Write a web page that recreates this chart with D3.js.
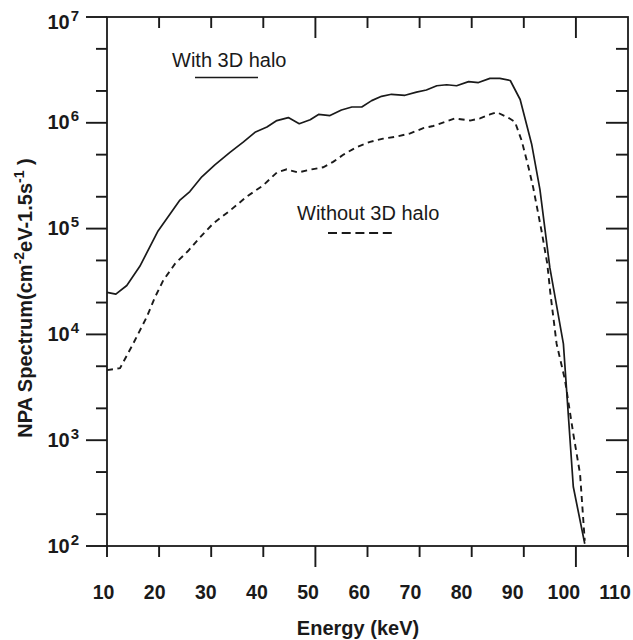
<!DOCTYPE html>
<html>
<head>
<meta charset="utf-8">
<script src="https://cdn.jsdelivr.net/npm/d3@7"></script>
<style>
  html, body { margin: 0; padding: 0; background: #fff; }
  svg { display: block; font-family: "Liberation Sans", Arial, Helvetica, sans-serif; }
</style>
</head>
<body>
<svg id="chart" width="633" height="640"></svg>
<script>
// ---- Data ----
const energyWith = [10, 11.7, 13.8, 16.3, 19.8, 24, 25.9, 28.2, 30.7, 33.6, 36.2, 38.4, 40.7, 42.6, 44.8, 46.9, 49, 50.6, 52.8, 55, 57, 58.9, 60.8, 62.7, 64.6, 67.2, 69.4, 71.3, 73.3, 75.2, 77.1, 79.4, 81.3, 83.5, 85.4, 87.4, 89.3, 91.5, 93.1, 95.0, 97.6, 99.5, 101.7];
const fluxWith = [25000, 24000, 29000, 44000, 95000, 186000, 224000, 309000, 400000, 525000, 661000, 813000, 912000, 1.05e6, 1.12e6, 0.98e6, 1.07e6, 1.20e6, 1.17e6, 1.32e6, 1.41e6, 1.41e6, 1.62e6, 1.78e6, 1.86e6, 1.82e6, 1.95e6, 2.04e6, 2.24e6, 2.29e6, 2.24e6, 2.45e6, 2.40e6, 2.63e6, 2.63e6, 2.51e6, 1.66e6, 631000, 234000, 42700, 8130, 363, 105];

const energyWithout = [10, 12.5, 15.0, 17.6, 19.2, 20.8, 23.1, 25.6, 27.9, 30.4, 33.6, 36.8, 40.0, 42.6, 44.5, 46.7, 49.3, 51.5, 53.4, 55.4, 57.9, 60.5, 63.0, 65.6, 68.2, 70.7, 72.6, 74.9, 76.8, 79.7, 81.6, 83.5, 84.8, 87.0, 88.3, 89.6, 90.9, 91.8, 93.4, 94.5, 95.1, 96.3, 97.9, 99.5, 100.8, 101.7];
const fluxWithout = [4600, 4800, 8130, 14500, 22400, 32400, 46800, 61700, 83200, 112000, 148000, 200000, 257000, 339000, 363000, 339000, 363000, 380000, 427000, 501000, 589000, 661000, 708000, 741000, 794000, 891000, 933000, 1.02e6, 1.10e6, 1.05e6, 1.10e6, 1.20e6, 1.26e6, 1.12e6, 1.02e6, 676000, 380000, 245000, 95500, 46800, 24500, 8130, 3720, 1150, 479, 112];

const xTicks = [10, 20, 30, 40, 50, 60, 70, 80, 90, 100, 110];
const xMajorTicks = [50, 100];
const yMajorTicks = [1e2, 1e3, 1e4, 1e5, 1e6, 1e7];
const yMinorTicks = [2e2, 5e2, 2e3, 5e3, 2e4, 5e4, 2e5, 5e5, 2e6, 5e6];
const seriesNames = ["With 3D halo", "Without 3D halo"];
const xTitle = "Energy (keV)";

// ---- Layout ----
const svg = d3.select("#chart");
const L = 107, R = 628, T = 17, B = 546;
const x = d3.scaleLinear().domain([10, 110]).range([L, R]);
const y = d3.scaleLog().domain([1e2, 1e7]).range([B, T]);
const ink = "#1a1a1a";
const tw = 1.9; // tick thickness

// Frame
svg.append("rect").attr("x", L).attr("y", T).attr("width", R - L).attr("height", B - T)
  .attr("fill", "none").attr("stroke", ink).attr("stroke-width", 1.8);

// Tick marks as thin filled rects, positions from the scales
const tickG = svg.append("g").attr("fill", ink);
function hTick(x0, len, py) {
  tickG.append("rect").attr("x", x0).attr("y", py - tw / 2).attr("width", len).attr("height", tw);
}
function vTick(px, y0, len) {
  tickG.append("rect").attr("x", px - tw / 2).attr("y", y0).attr("width", tw).attr("height", len);
}
yMajorTicks.forEach(d => {
  hTick(L - 21, 21, y(d));
  if (d !== 1e2 && d !== 1e7) hTick(R - 22, 22, y(d));
});
yMinorTicks.forEach(d => {
  hTick(L - 11, 11, y(d));
  hTick(R - 12, 12, y(d));
});
xTicks.forEach(d => {
  const len = xMajorTicks.includes(d) ? 21 : 11;
  vTick(x(d), B, len);
  if (d !== 10 && d !== 110) vTick(x(d), T, len);
});

// X tick labels
svg.append("g").selectAll("text").data(xTicks).join("text")
  .attr("x", d => x(d) - 3.5 - (d - 10) * 0.095).attr("y", 599)
  .attr("text-anchor", "middle").attr("font-size", 19.5).attr("font-weight", "bold").attr("fill", ink)
  .text(d => d);

// Y tick labels (10^n)
const ylab = svg.append("g").selectAll("text").data(yMajorTicks).join("text")
  .attr("x", 79).attr("y", d => y(d) + (d === 1e7 ? 12 : 6.5))
  .attr("text-anchor", "end").attr("font-weight", "bold").attr("fill", ink);
ylab.append("tspan").attr("font-size", 20).text("10");
ylab.append("tspan").attr("font-size", 15).attr("dy", -8).attr("dx", 1).text(d => Math.round(Math.log10(d)));

// Axis titles
svg.append("text").attr("x", 358).attr("y", 635).attr("text-anchor", "middle")
  .attr("font-size", 20).attr("font-weight", "bold").attr("fill", ink).text(xTitle);

const yt = svg.append("text").attr("transform", "translate(32,298) rotate(-90)")
  .attr("text-anchor", "middle").attr("font-size", 20).attr("font-weight", "bold").attr("fill", ink);
yt.append("tspan").text("NPA Spectrum(cm");
yt.append("tspan").attr("font-size", 14).attr("dy", -8).text("-2");
yt.append("tspan").attr("dy", 8).text("eV-1.5s");
yt.append("tspan").attr("font-size", 14).attr("dy", -8).text("-1");
yt.append("tspan").attr("dy", 8).text(" )");

// Lines
const line = d3.line().x(d => x(d[0])).y(d => y(d[1]));
const dataWith = energyWith.map((e, i) => [e, fluxWith[i]]);
const dataWithout = energyWithout.map((e, i) => [e, fluxWithout[i]]);

svg.append("path").datum(dataWith).attr("d", line)
  .attr("fill", "none").attr("stroke", ink).attr("stroke-width", 1.7).attr("stroke-linejoin", "round");
svg.append("path").datum(dataWithout).attr("d", line)
  .attr("fill", "none").attr("stroke", ink).attr("stroke-width", 1.9).attr("stroke-dasharray", "6,4.5");

// Legend
svg.append("text").attr("x", 172).attr("y", 67).attr("font-size", 20).attr("fill", ink).text(seriesNames[0]);
svg.append("line").attr("x1", 195).attr("x2", 258).attr("y1", 77.5).attr("y2", 77.5)
  .attr("stroke", ink).attr("stroke-width", 1.7);
svg.append("text").attr("x", 297).attr("y", 220).attr("font-size", 20).attr("fill", ink).text(seriesNames[1]);
svg.append("line").attr("x1", 328).attr("x2", 392).attr("y1", 233).attr("y2", 233)
  .attr("stroke", ink).attr("stroke-width", 1.9).attr("stroke-dasharray", "9,4.7");
</script>
</body>
</html>
